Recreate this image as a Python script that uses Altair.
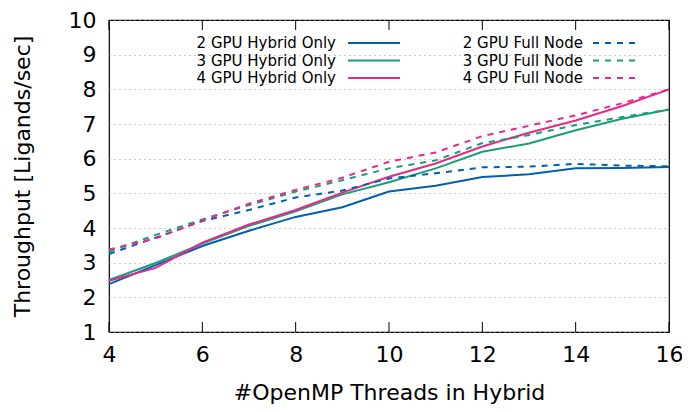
import altair as alt
import pandas as pd

threads = [4, 5, 6, 7, 8, 9, 10, 11, 12, 13, 14, 15, 16]
hybrid_2gpu = [2.38, 2.93, 3.48, 3.92, 4.32, 4.60, 5.05, 5.22, 5.47, 5.55, 5.72, 5.73, 5.76]
hybrid_3gpu = [2.50, 2.99, 3.55, 4.06, 4.48, 4.97, 5.32, 5.72, 6.20, 6.44, 6.82, 7.15, 7.42]
hybrid_4gpu = [2.48, 2.85, 3.58, 4.10, 4.52, 5.02, 5.48, 5.86, 6.35, 6.75, 7.10, 7.52, 8.00]
full_2gpu = [3.25, 3.72, 4.20, 4.52, 4.88, 5.08, 5.43, 5.58, 5.75, 5.77, 5.85, 5.80, 5.78]
full_3gpu = [3.32, 3.80, 4.25, 4.66, 5.05, 5.38, 5.72, 5.95, 6.45, 6.68, 6.97, 7.20, 7.42]
full_4gpu = [3.38, 3.70, 4.22, 4.70, 5.10, 5.45, 5.91, 6.18, 6.65, 6.95, 7.25, 7.60, 8.00]

series_names = ["2 GPU Hybrid Only", "3 GPU Hybrid Only", "4 GPU Hybrid Only",
                "2 GPU Full Node", "3 GPU Full Node", "4 GPU Full Node"]
series_values = [hybrid_2gpu, hybrid_3gpu, hybrid_4gpu, full_2gpu, full_3gpu, full_4gpu]
colors = ["#0060ad", "#1b9e77", "#e7298a", "#0060ad", "#1b9e77", "#e7298a"]
dashed = [False, False, False, True, True, True]

x_ticks = [4, 6, 8, 10, 12, 14, 16]
y_ticks = [1, 2, 3, 4, 5, 6, 7, 8, 9, 10]

rows = []
for name, vals in zip(series_names, series_values):
    for t, v in zip(threads, vals):
        rows.append({"series": name, "threads": t, "value": v})
df = pd.DataFrame(rows)
tick_df = pd.DataFrame({"t": x_ticks})

W, H = 560, 312
FONT = "DejaVu Sans"
FS = 22

x_scale = alt.Scale(domain=[4, 16], nice=False, zero=False)
y_scale = alt.Scale(domain=[1, 10], nice=False, zero=False)

x_axis = alt.Axis(values=x_ticks, title="#OpenMP Threads in Hybrid", ticks=False,
                  domain=False, grid=False, labelFontSize=FS, labelPadding=12,
                  titleFontSize=FS, titleFontWeight="normal", titlePadding=17,
                  labelColor="black", titleColor="black", labelFont=FONT, titleFont=FONT,
                  labelOverlap=False, labelFlush=False, labelBound=False)
y_axis = alt.Axis(values=y_ticks, title="Throughput [Ligands/sec]", ticks=False,
                  domain=False, grid=True, gridDash=[1, 4], gridColor="#999999",
                  labelFontSize=FS, labelPadding=13, titleFontSize=FS,
                  titleFontWeight="normal", titlePadding=34, labelColor="black",
                  titleColor="black", labelFont=FONT, titleFont=FONT, labelOverlap=False,
                  labelFlush=False, labelBound=False)

layers = []
for i, name in enumerate(series_names):
    mark_kw = dict(color=colors[i], strokeWidth=2)
    if dashed[i]:
        mark_kw["strokeDash"] = [6, 6]
    layers.append(
        alt.Chart(df).transform_filter(alt.datum.series == name)
        .mark_line(**mark_kw)
        .encode(
            x=alt.X("threads:Q", scale=x_scale, axis=x_axis),
            y=alt.Y("value:Q", scale=y_scale, axis=y_axis),
        )
    )

# inward tick marks on bottom and top
bottom_ticks = alt.Chart(tick_df).mark_rule(color="black", strokeWidth=1).encode(
    x=alt.X("t:Q", scale=x_scale, axis=x_axis), y=alt.value(H - 10), y2=alt.value(H))
top_ticks = alt.Chart(tick_df).mark_rule(color="black", strokeWidth=1).encode(
    x=alt.X("t:Q", scale=x_scale, axis=x_axis), y=alt.value(0), y2=alt.value(10))
layers += [bottom_ticks, top_ticks]

# manual key
one = pd.DataFrame({"k": [0]})
key_rows_y = [23, 40.5, 58]
key_cols = [(227, 239, 291), (474, 484, 530)]
for i, name in enumerate(series_names):
    col = key_cols[i // 3]
    ry = key_rows_y[i % 3]
    layers.append(alt.Chart(one).mark_text(align="right", baseline="middle", fontSize=15,
                                           font=FONT, color="black").encode(
        x=alt.value(col[0]), y=alt.value(ry), text=alt.value(name)))
    mk = dict(color=colors[i], strokeWidth=2)
    if dashed[i]:
        mk["strokeDash"] = [6, 6]
    layers.append(alt.Chart(one).mark_rule(**mk).encode(
        x=alt.value(col[1]), x2=alt.value(col[2]), y=alt.value(ry)))

chart = alt.layer(*layers).properties(
    width=W, height=H,
    autosize=alt.AutoSizeParams(type="none"),
    padding={"left": 101, "top": 12, "right": 13, "bottom": 80},
    background="white",
).configure_view(stroke="black", strokeWidth=1.2)

chart.save("out.html", embed_options={"renderer": "svg", "actions": False})
